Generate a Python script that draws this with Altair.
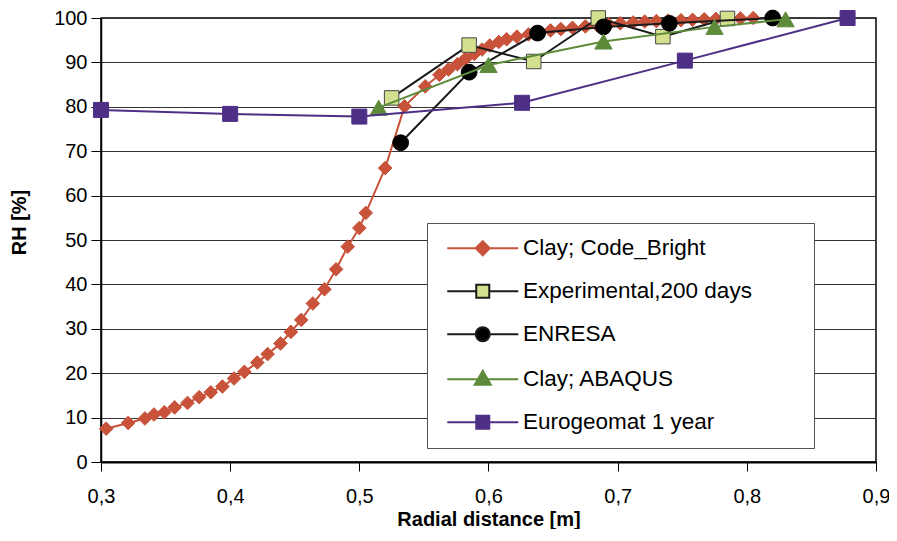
import altair as alt
import pandas as pd

# ---------------- data ----------------
series_names = ["Clay; Code_Bright", "Experimental,200 days", "ENRESA",
                "Clay; ABAQUS", "Eurogeomat 1 year"]

code_bright_x = [0.304, 0.321, 0.334, 0.341, 0.349, 0.357, 0.367, 0.376, 0.385, 0.394,
                 0.403, 0.411, 0.421, 0.429, 0.439, 0.447, 0.455, 0.464, 0.473, 0.482,
                 0.491, 0.500, 0.505, 0.520, 0.535, 0.551, 0.562, 0.569, 0.576, 0.582,
                 0.589, 0.595, 0.601, 0.608, 0.614, 0.622, 0.631, 0.639, 0.648, 0.656,
                 0.665, 0.675, 0.684, 0.693, 0.702, 0.712, 0.721, 0.730, 0.739, 0.749,
                 0.758, 0.767, 0.776, 0.786, 0.795, 0.805]
code_bright_y = [7.5, 8.8, 9.8, 10.7, 11.2, 12.3, 13.3, 14.6, 15.7, 17.0,
                 18.8, 20.3, 22.4, 24.3, 26.7, 29.3, 32.0, 35.7, 38.9, 43.4,
                 48.5, 52.7, 56.1, 66.2, 80.1, 84.6, 87.2, 88.4, 89.6, 90.8,
                 91.9, 92.9, 93.8, 94.6, 95.2, 95.8, 96.3, 96.8, 97.2, 97.5,
                 97.8, 98.1, 98.4, 98.6, 98.8, 99.0, 99.2, 99.3, 99.4, 99.5,
                 99.6, 99.7, 99.8, 99.9, 99.9, 100.0]

exp_x = [0.525, 0.585, 0.635, 0.685, 0.735, 0.785]
exp_y = [82.0, 93.9, 90.2, 100.0, 95.8, 99.9]

enresa_x = [0.532, 0.585, 0.638, 0.689, 0.740, 0.820]
enresa_y = [71.9, 87.8, 96.6, 98.0, 98.8, 100.0]

abaqus_x = [0.515, 0.600, 0.689, 0.775, 0.830]
abaqus_y = [79.8, 89.4, 94.7, 98.0, 99.7]

euro_x = [0.300, 0.400, 0.500, 0.626, 0.752, 0.878]
euro_y = [79.3, 78.4, 77.8, 80.9, 90.4, 100.0]

x_ticks = [0.3, 0.4, 0.5, 0.6, 0.7, 0.8, 0.9]
y_ticks = [0, 10, 20, 30, 40, 50, 60, 70, 80, 90, 100]

# ---------------- styles ----------------
line_colors = ["#C8523A", "#1a1a1a", "#1a1a1a", "#5E8B3A", "#4E2F86"]
fill_colors = ["#C8523A", "#D5E08E", "#000000", "#5E8B3A", "#4E2F86"]
stroke_colors = ["#C8523A", "#444444", "#000000", "#5E8B3A", "#4E2F86"]
shapes = ["diamond", "square", "circle", "triangle-up", "square"]
sizes = [185, 210, 250, 300, 225]

legend_paths = [
    "M-3.55,0H-0.7M0.7,0H3.55M0,-0.7L0.7,0L0,0.7L-0.7,0Z",
    "M-3.55,0H-0.65M0.65,0H3.55M-0.65,-0.65H0.65V0.65H-0.65Z",
    "M-3.55,0H-0.7M0.7,0H3.55M-0.7,0A0.7,0.7,0,1,1,0.7,0A0.7,0.7,0,1,1,-0.7,0Z",
    "M-3.55,0H-0.5M0.5,0H3.55M0,-0.85L0.8,0.55L-0.8,0.55Z",
    "M-3.55,0H-0.65M0.65,0H3.55M-0.65,-0.65H0.65V0.65H-0.65Z",
]

series_x = [code_bright_x, exp_x, enresa_x, abaqus_x, euro_x]
series_y = [code_bright_y, exp_y, enresa_y, abaqus_y, euro_y]

frames = []
for name, xs, ys in zip(series_names, series_x, series_y):
    frames.append(pd.DataFrame({"x": xs, "y": ys, "series": name}))
data = pd.concat(frames, ignore_index=True)

FONT = "Liberation Sans"

xscale = alt.Scale(domain=[0.3, 0.9], nice=False, zero=False)
yscale = alt.Scale(domain=[0, 100], nice=False, zero=True)

xaxis = alt.Axis(values=x_ticks, labelExpr="replace(format(datum.value, '.1f'), '.', ',')",
                 grid=False, tickSize=9, tickColor="black", domainColor="black", domainWidth=2,
                 labelFontSize=20, labelPadding=15, labelFlush=False, labelFont=FONT,
                 labelColor="black", title="Radial distance [m]", titleFont=FONT,
                 titleFontSize=20, titleFontWeight="bold", titleColor="black", titleY=47)
yaxis = alt.Axis(values=y_ticks, format="d", grid=True, gridColor="#333333", gridWidth=1,
                 tickSize=10, tickColor="black", domainColor="black", domainWidth=1.5,
                 labelFontSize=20, labelPadding=4, labelFont=FONT, labelColor="black",
                 title="RH [%]", titleFont=FONT, titleFontSize=20, titleFontWeight="bold",
                 titleColor="black", titlePadding=24, titleY=204)

X = alt.X("x:Q", scale=xscale, axis=xaxis)
Y = alt.Y("y:Q", scale=yscale, axis=yaxis)

layers = []
for i, name in enumerate(series_names):
    base = alt.Chart(data).transform_filter(alt.datum.series == name)
    layers.append(base.mark_line(color=line_colors[i], strokeWidth=2).encode(x=X, y=Y))
    layers.append(base.mark_point(shape=shapes[i], filled=True, fill=fill_colors[i],
                                  stroke=stroke_colors[i], strokeWidth=1, size=sizes[i],
                                  opacity=1).encode(x=X, y=Y))

leg = alt.Legend(title="M", titleOrient="right", titleFontSize=10, titlePadding=39,
                 titleOpacity=0, orient="none", legendX=326, legendY=205, padding=14,
                 rowPadding=20, symbolOffset=30.5, labelOffset=29, labelFontSize=22.5,
                 labelFont=FONT, labelColor="black", labelLimit=600, symbolSize=400,
                 symbolStrokeWidth=2, strokeColor="#555555", fillColor="white")

legend_layer = alt.Chart(data).transform_filter("false").mark_point(
    filled=True, opacity=1, strokeWidth=2).encode(
    x=X, y=Y,
    stroke=alt.Stroke("series:N", scale=alt.Scale(domain=series_names, range=line_colors), legend=leg),
    fill=alt.Fill("series:N", scale=alt.Scale(domain=series_names, range=fill_colors), legend=leg),
    shape=alt.Shape("series:N", scale=alt.Scale(domain=series_names, range=legend_paths), legend=leg),
)

chart = alt.layer(*layers, legend_layer).properties(
    width=775, height=444,
    padding={"left": 93, "top": 10, "right": 13, "bottom": 67},
    autosize="none",
    background="white",
).configure_view(stroke="black", strokeWidth=1.5)

chart.save("out.html", embed_options={"renderer": "svg", "actions": False})
